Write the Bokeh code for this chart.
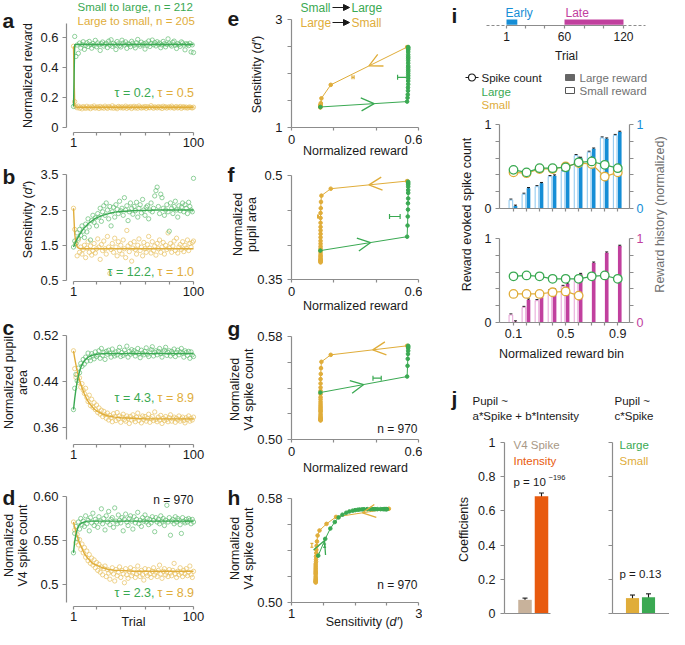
import math
from bokeh.plotting import figure
from bokeh.layouts import row, column
from bokeh.models import (Range1d, FixedTicker, LinearAxis, Label, Arrow, OpenHead,
                          NormalHead, Whisker, TeeHead, ColumnDataSource)
from bokeh.embed import file_html
from bokeh.resources import INLINE

# ======================= DATA =======================
trials = list(range(1, 101))
fit_t = [1, 2, 3, 4, 5, 6, 7, 8, 10, 12, 14, 16, 18, 20, 25, 30, 35, 40, 50, 60, 70, 80, 90, 100]

# a: normalized reward
a_green = [0.140,0.605,0.472,0.548,0.493,0.561,0.528,0.552,0.570,0.519,
           0.546,0.563,0.538,0.572,0.551,0.527,0.558,0.545,0.579,0.536,
           0.562,0.549,0.512,0.557,0.568,0.541,0.553,0.560,0.531,0.574,
           0.547,0.583,0.539,0.559,0.550,0.518,0.571,0.556,0.544,0.535,
           0.580,0.561,0.548,0.569,0.526,0.557,0.552,0.537,0.573,0.560,
           0.546,0.529,0.563,0.585,0.551,0.540,0.567,0.549,0.558,0.521,
           0.562,0.547,0.575,0.538,0.559,0.581,0.550,0.564,0.542,0.570,
           0.553,0.561,0.530,0.548,0.572,0.557,0.536,0.552,0.589,0.560,
           0.549,0.541,0.566,0.574,0.547,0.525,0.558,0.551,0.539,0.569,
           0.562,0.548,0.516,0.557,0.553,0.544,0.560,0.502,0.549,0.498]
a_gold = [0.540,0.172,0.138,0.131,0.142,0.128,0.135,0.124,0.139,0.133,
          0.127,0.141,0.130,0.136,0.125,0.138,0.132,0.143,0.129,0.134,
          0.137,0.126,0.140,0.131,0.135,0.128,0.142,0.133,0.127,0.139,
          0.134,0.130,0.144,0.128,0.136,0.132,0.125,0.140,0.135,0.131,
          0.138,0.129,0.134,0.142,0.127,0.136,0.133,0.139,0.126,0.135,
          0.141,0.130,0.137,0.128,0.143,0.134,0.129,0.136,0.132,0.140,
          0.127,0.138,0.133,0.131,0.145,0.135,0.128,0.137,0.134,0.130,
          0.139,0.132,0.136,0.126,0.141,0.133,0.138,0.129,0.135,0.137,
          0.131,0.142,0.134,0.128,0.136,0.139,0.130,0.133,0.140,0.127,
          0.135,0.138,0.131,0.136,0.129,0.134,0.137,0.132,0.130,0.135]
a_green_fit = [0.14, 0.55, 0.551, 0.551, 0.551, 0.551, 0.551, 0.551, 0.551, 0.551, 0.551, 0.551,
               0.551, 0.551, 0.551, 0.551, 0.551, 0.551, 0.551, 0.551, 0.551, 0.551, 0.551, 0.551]
a_gold_fit = [0.54, 0.145, 0.136, 0.135, 0.135, 0.135, 0.135, 0.135, 0.135, 0.135, 0.135, 0.135,
              0.135, 0.135, 0.135, 0.135, 0.135, 0.135, 0.135, 0.135, 0.135, 0.135, 0.135, 0.135]

# b: sensitivity
b_green = [1.45,1.62,1.55,1.85,1.70,1.95,1.78,2.05,1.90,1.72,
           2.10,1.88,2.25,2.02,1.65,2.20,2.35,2.15,2.28,2.05,
           2.40,2.30,2.55,2.18,2.45,2.62,2.35,2.70,2.50,2.25,
           2.60,2.05,2.45,2.58,2.30,2.65,2.52,2.40,2.75,2.48,
           2.55,2.35,2.85,2.50,2.62,2.20,2.45,2.70,2.55,2.38,
           2.60,2.48,2.72,2.30,2.55,2.65,2.42,2.80,2.50,2.35,
           2.58,2.62,2.25,2.50,2.70,2.45,2.55,2.90,3.05,3.15,
           2.60,2.40,2.95,2.85,2.55,2.35,2.50,2.65,2.45,1.90,
           2.70,2.55,2.40,2.60,2.75,2.50,2.30,2.62,2.48,2.58,
           2.70,2.45,2.65,2.55,2.40,2.72,2.60,2.50,2.45,3.40]
b_gold = [2.55,1.95,1.55,1.20,1.65,1.30,1.45,1.25,1.38,1.50,
          1.15,1.42,1.60,1.30,1.48,1.22,1.35,1.55,1.28,1.40,
          1.68,1.45,1.10,1.52,1.35,1.62,1.40,1.25,1.75,1.45,
          0.70,1.38,1.55,1.30,1.70,1.45,1.20,1.60,1.35,1.50,
          1.25,1.65,1.40,1.15,1.92,1.48,1.32,1.55,1.05,1.42,
          1.60,1.38,1.25,1.50,1.68,1.35,1.45,1.20,1.58,1.40,
          1.30,1.52,1.75,1.42,1.28,1.60,1.35,1.48,1.22,1.55,
          1.40,1.65,1.30,1.45,1.58,1.25,1.50,1.38,1.85,1.42,
          1.55,1.30,1.48,1.62,1.35,1.70,1.28,1.45,1.52,1.38,
          1.60,1.32,1.50,1.42,1.65,1.35,1.55,1.45,1.58,1.62]
b_green_fit = [1.45, 1.53, 1.61, 1.68, 1.74, 1.80, 1.86, 1.91, 2.00, 2.07, 2.14, 2.19,
               2.24, 2.28, 2.35, 2.40, 2.44, 2.46, 2.48, 2.49, 2.50, 2.50, 2.50, 2.50]
b_gold_fit = [2.55, 1.82, 1.56, 1.46, 1.42, 1.41, 1.40, 1.40, 1.40, 1.40, 1.40, 1.40,
              1.40, 1.40, 1.40, 1.40, 1.40, 1.40, 1.40, 1.40, 1.40, 1.40, 1.40, 1.40]

# c: pupil area
c_green = [0.391,0.428,0.452,0.441,0.463,0.455,0.471,0.466,0.478,0.470,
           0.482,0.475,0.489,0.481,0.476,0.488,0.484,0.479,0.491,0.483,
           0.486,0.493,0.480,0.497,0.485,0.490,0.478,0.492,0.487,0.494,
           0.489,0.482,0.496,0.488,0.484,0.491,0.486,0.493,0.499,0.483,
           0.490,0.485,0.494,0.488,0.501,0.482,0.492,0.487,0.495,0.489,
           0.493,0.484,0.490,0.497,0.488,0.481,0.494,0.489,0.486,0.492,
           0.498,0.487,0.483,0.491,0.495,0.500,0.484,0.490,0.493,0.486,
           0.492,0.497,0.488,0.482,0.491,0.494,0.499,0.485,0.490,0.493,
           0.484,0.492,0.488,0.496,0.483,0.490,0.494,0.486,0.491,0.497,
           0.489,0.482,0.493,0.490,0.485,0.492,0.480,0.491,0.486,0.483]
c_gold = [0.493,0.462,0.447,0.451,0.438,0.446,0.430,0.436,0.425,0.419,
          0.428,0.412,0.405,0.416,0.398,0.409,0.395,0.403,0.391,0.399,
          0.386,0.394,0.383,0.390,0.379,0.388,0.382,0.376,0.385,0.373,
          0.381,0.377,0.370,0.384,0.379,0.372,0.386,0.375,0.380,0.369,
          0.378,0.383,0.374,0.371,0.380,0.376,0.367,0.379,0.373,0.382,
          0.375,0.370,0.378,0.385,0.372,0.377,0.368,0.380,0.374,0.379,
          0.371,0.376,0.383,0.369,0.375,0.379,0.372,0.387,0.374,0.370,
          0.378,0.373,0.381,0.367,0.376,0.372,0.379,0.374,0.370,0.377,
          0.382,0.371,0.375,0.378,0.369,0.376,0.373,0.380,0.371,0.375,
          0.378,0.372,0.368,0.377,0.374,0.380,0.371,0.376,0.373,0.378]
c_green_fit = [0.391, 0.410, 0.426, 0.439, 0.449, 0.457, 0.464, 0.469, 0.476, 0.480, 0.483, 0.485,
               0.486, 0.487, 0.488, 0.488, 0.488, 0.488, 0.488, 0.488, 0.488, 0.488, 0.488, 0.488]
c_gold_fit = [0.493, 0.480, 0.469, 0.459, 0.450, 0.442, 0.435, 0.429, 0.418, 0.409, 0.402, 0.397,
              0.392, 0.389, 0.383, 0.380, 0.378, 0.377, 0.376, 0.375, 0.375, 0.375, 0.375, 0.375]

# d: V4 spike count
d_green = [0.536,0.558,0.566,0.552,0.571,0.563,0.575,0.568,0.572,0.566,
           0.578,0.569,0.573,0.561,0.576,0.570,0.581,0.567,0.574,0.571,
           0.565,0.577,0.572,0.586,0.569,0.575,0.562,0.578,0.571,0.583,
           0.568,0.574,0.576,0.565,0.587,0.572,0.569,0.579,0.573,0.570,
           0.576,0.561,0.574,0.580,0.571,0.567,0.575,0.578,0.572,0.563,
           0.577,0.570,0.574,0.582,0.569,0.573,0.566,0.576,0.572,0.579,
           0.571,0.575,0.568,0.574,0.570,0.577,0.573,0.560,0.576,0.571,
           0.574,0.569,0.578,0.572,0.575,0.567,0.573,0.590,0.571,0.576,
           0.556,0.572,0.574,0.569,0.577,0.571,0.575,0.573,0.568,0.558,
           0.576,0.572,0.570,0.574,0.571,0.575,0.573,0.569,0.574,0.571]
d_gold = [0.571,0.562,0.548,0.557,0.545,0.551,0.540,0.546,0.536,0.542,
          0.531,0.538,0.527,0.534,0.524,0.530,0.522,0.528,0.519,0.525,
          0.516,0.523,0.514,0.520,0.511,0.518,0.521,0.509,0.517,0.513,
          0.506,0.515,0.519,0.512,0.504,0.517,0.510,0.514,0.520,0.508,
          0.516,0.512,0.502,0.518,0.511,0.507,0.515,0.519,0.510,0.513,
          0.517,0.508,0.512,0.521,0.514,0.509,0.516,0.511,0.505,0.518,
          0.513,0.510,0.517,0.512,0.508,0.515,0.519,0.511,0.514,0.509,
          0.516,0.522,0.512,0.507,0.515,0.518,0.511,0.514,0.509,0.517,
          0.513,0.510,0.516,0.524,0.512,0.508,0.515,0.511,0.519,0.513,
          0.509,0.516,0.512,0.518,0.510,0.514,0.521,0.511,0.508,0.515]
d_green_fit = [0.536, 0.549, 0.557, 0.562, 0.566, 0.568, 0.569, 0.570, 0.571, 0.572, 0.572, 0.572,
               0.572, 0.572, 0.572, 0.572, 0.572, 0.572, 0.572, 0.572, 0.572, 0.572, 0.572, 0.572]
d_gold_fit = [0.571, 0.565, 0.560, 0.555, 0.551, 0.547, 0.544, 0.541, 0.535, 0.531, 0.528, 0.525,
              0.523, 0.522, 0.519, 0.517, 0.516, 0.516, 0.515, 0.515, 0.515, 0.515, 0.515, 0.515]

# e-h: trajectories (green = small->large, gold = large->small)
e_green_x = [0.136, 0.545, 0.547, 0.548, 0.549, 0.549, 0.55, 0.55, 0.55, 0.55, 0.55, 0.55, 0.55,
             0.55, 0.55, 0.55, 0.55, 0.55, 0.55, 0.55, 0.55, 0.55, 0.55, 0.55, 0.55]
e_green_y = [1.38, 1.48, 1.55, 1.61, 1.68, 1.74, 1.80, 1.86, 1.91, 1.96, 2.00, 2.04, 2.07,
             2.11, 2.14, 2.19, 2.24, 2.28, 2.31, 2.35, 2.40, 2.44, 2.46, 2.48, 2.49]
e_gold_x = [0.545, 0.185, 0.141, 0.138, 0.137, 0.136, 0.136, 0.136, 0.136, 0.136]
e_gold_y = [2.49, 1.79, 1.54, 1.45, 1.42, 1.41, 1.40, 1.39, 1.38, 1.37]

f_green_x = [0.136, 0.545, 0.547, 0.548, 0.549, 0.549, 0.55, 0.55, 0.55, 0.55, 0.55, 0.55, 0.55]
f_green_y = [0.392, 0.412, 0.428, 0.441, 0.451, 0.460, 0.467, 0.475, 0.479, 0.484, 0.487, 0.489, 0.491]
f_gold_x = [0.545, 0.185, 0.141, 0.139, 0.138, 0.137, 0.137, 0.137, 0.137, 0.137, 0.137, 0.137,
            0.137, 0.137, 0.137, 0.137, 0.137, 0.137, 0.137, 0.137, 0.137, 0.137, 0.137, 0.137,
            0.137, 0.137, 0.137]
f_gold_y = [0.492, 0.481, 0.471, 0.462, 0.453, 0.446, 0.439, 0.432, 0.426, 0.421, 0.416, 0.411,
            0.406, 0.402, 0.398, 0.395, 0.392, 0.389, 0.386, 0.384, 0.382, 0.380, 0.379, 0.378,
            0.377, 0.376, 0.375]

g_green_x = [0.136, 0.545, 0.547, 0.548, 0.549, 0.55, 0.55, 0.55, 0.55]
g_green_y = [0.5366, 0.549, 0.5573, 0.5627, 0.5665, 0.569, 0.571, 0.572, 0.5728]
g_gold_x = [0.545, 0.185, 0.141, 0.139, 0.138, 0.137, 0.137, 0.137, 0.137, 0.137, 0.137, 0.137,
            0.137, 0.137, 0.137, 0.137, 0.137, 0.137, 0.137, 0.137, 0.137, 0.137, 0.137, 0.137,
            0.137, 0.137, 0.137, 0.137, 0.137]
g_gold_y = [0.5728, 0.5658, 0.5604, 0.5555, 0.551, 0.547, 0.5436, 0.5405, 0.538, 0.5354, 0.533,
            0.5313, 0.5295, 0.528, 0.5266, 0.5254, 0.5243, 0.5233, 0.5224, 0.5216, 0.5200, 0.5188,
            0.5178, 0.5171, 0.5165, 0.5160, 0.5157, 0.5152, 0.515]

h_green_x = [1.42, 1.53, 1.61, 1.68, 1.74, 1.80, 1.86, 1.91, 1.96, 2.00, 2.04, 2.07, 2.11,
             2.14, 2.19, 2.24, 2.28, 2.31, 2.35, 2.40, 2.44, 2.46, 2.48, 2.49, 2.50]
h_green_y = [0.536, 0.549, 0.557, 0.562, 0.5656, 0.5677, 0.5692, 0.5702, 0.5708, 0.5712, 0.5715,
             0.5717, 0.5718, 0.5719, 0.572, 0.572, 0.572, 0.572, 0.572, 0.572, 0.572, 0.572,
             0.572, 0.572, 0.572]
h_gold_x = [2.53, 1.70, 1.55, 1.44, 1.41, 1.40, 1.395, 1.39, 1.39, 1.385, 1.385, 1.385, 1.38,
            1.38, 1.38, 1.38, 1.38, 1.38, 1.38, 1.38, 1.38, 1.38, 1.38, 1.38, 1.38, 1.38, 1.38,
            1.38]
h_gold_y = [0.5723, 0.566, 0.5606, 0.5555, 0.5516, 0.547, 0.5436, 0.5405, 0.538, 0.5354, 0.533,
            0.5313, 0.5295, 0.528, 0.5266, 0.5254, 0.5243, 0.5233, 0.5224, 0.5216, 0.5200, 0.5188,
            0.5178, 0.5171, 0.5165, 0.5160, 0.5157, 0.5152]

# error bars in e-h (first entry green, second gold)
e_err_green = dict(y=[1.93], lo=[0.50], hi=[0.556])
e_err_gold = dict(y=[1.93], lo=[0.285], hi=[0.295])
f_err_green = dict(y=[0.441], lo=[0.462], hi=[0.512])
f_err_gold = dict(y=[0.441], lo=[0.123], hi=[0.127])
g_err_green = dict(y=[0.5477], lo=[0.384], hi=[0.423])
h_err_gold = dict(x=[1.32], lo=[0.5425], hi=[0.5455])
h_err_green = dict(x=[1.52], lo=[0.5425], hi=[0.5450])

# i: timeline periods
period_start = [1, 60]
period_end = [12, 120]
period_names = ["Early", "Late"]

# i: reward-bin analysis
bins = [0.1, 0.2, 0.3, 0.4, 0.5, 0.6, 0.7, 0.8, 0.9]
early_small_hist = [0.10, 0.17, 0.26, 0.38, 0.44, 0.63, 0.67, 0.84, 0.87]
early_large_hist = [0.03, 0.24, 0.30, 0.39, 0.46, 0.60, 0.71, 0.83, 0.91]
early_spk_large = [0.46, 0.43, 0.48, 0.48, 0.49, 0.55, 0.56, 0.52, 0.48]
early_spk_large_err = [0.03, 0.02, 0.02, 0.02, 0.03, 0.06, 0.06, 0.03, 0.03]
early_spk_small = [0.43, 0.42, 0.47, 0.47, 0.50, 0.54, 0.53, 0.38, 0.43]
early_spk_small_err = [0.02, 0.02, 0.02, 0.02, 0.03, 0.05, 0.05, 0.05, 0.04]
late_small_hist = [0.09, 0.18, 0.26, 0.38, 0.43, 0.52]
late_large_hist = [0.01, 0.27, 0.30, 0.39, 0.46, 0.575, 0.71, 0.83, 0.91]
late_spk_large = [0.55, 0.56, 0.55, 0.52, 0.52, 0.52, 0.55, 0.56, 0.52]
late_spk_large_err = [0.02, 0.02, 0.02, 0.02, 0.02, 0.03, 0.02, 0.02, 0.02]
late_spk_small = [0.34, 0.34, 0.34, 0.36, 0.37, 0.32]
late_spk_small_err = [0.02, 0.02, 0.02, 0.03, 0.04, 0.05]

# j: regression coefficients
j_left_names = ["V4 Spike", "Intensity"]
j_left_vals = [0.08, 0.685]
j_left_err = [0.01, 0.02]
j_right_names = ["Small", "Large"]
j_right_vals = [0.09, 0.095]
j_right_err = [0.018, 0.02]

# ======================= STYLE =======================
FONT = "Liberation Sans"
AX = "#8c8c8c"
INK = "#1a1a1a"
GREEN = "#3aa952"
GREEN_P = "#5dbb6e"
GOLD = "#e0ad3a"
GOLD_P = "#e8bf5c"
BLUE = "#168ed6"
BLUE_L = "#8ac6ee"
MAG = "#c1409e"
MAG_L = "#e6a2d6"
TAN = "#c8b29b"
ORANGE = "#e85a0e"
GRAYTXT = "#707070"
VERT = math.pi / 2


class Map:
    """linear value <-> layout pixel mapping (value v0 at pixel p0, v1 at p1)"""
    def __init__(self, v0, p0, v1, p1):
        self.v0, self.p0 = v0, p0
        self.s = (p1 - p0) / (v1 - v0)

    def val(self, px):
        return self.v0 + (px - self.p0) / self.s


def page_x():
    return Map(0, 0, 1, 1)


def page_y(Y1):
    return Map(0, Y1, 1, Y1 - 1)


FR = {}


def cfig(X0, X1, Y0, Y1, xm, ym):
    p = figure(width=X1 - X0, height=Y1 - Y0, title=None,
               x_range=Range1d(xm.val(X0), xm.val(X1)),
               y_range=Range1d(ym.val(Y1), ym.val(Y0)),
               x_axis_location=None, y_axis_location=None, tools="",
               toolbar_location=None, output_backend="svg",
               min_border_left=0, min_border_right=0, min_border_top=0, min_border_bottom=0)
    p.outline_line_color = None
    p.grid.grid_line_color = None
    p.background_fill_color = "white"
    p.border_fill_color = "white"
    FR[id(p)] = (X0, Y1)
    return p


def lab(p, x, y, text, size="12.5px", color=INK, align="left", base="middle",
        angle=0.0, style="normal"):
    X0, Y1 = FR[id(p)]
    p.add_layout(Label(x=x - X0, y=Y1 - y, x_units="screen", y_units="screen", text=text,
                       text_font=FONT, text_font_size=size, text_color=color,
                       text_align=align, text_baseline=base, angle=angle,
                       text_font_style=style))


def sens_label(p, cx, cy, vertical=False, size=12.5):
    # "Sensitivity (" + italic "d′" + ")", centred on (cx, cy)
    parts = [("Sensitivity (", 5.112, "normal"), ("d′", 0.76, "italic"), (")", 0.333, "normal")]
    total = sum(w for _, w, _ in parts) * size
    off = -total / 2
    for text, w, st in parts:
        if vertical:
            lab(p, cx, cy - off, text, size=f"{size}px", angle=VERT, style=st)
        else:
            lab(p, cx + off, cy, text, size=f"{size}px", style=st)
        off += w * size


def axis(p, side, ticks, labels, loc, bounds, size="13px", color=INK, tick_out=4,
         standoff=4, line=True, tick_in=0, xname=None, yname=None):
    ov = {}
    for t, l in zip(ticks, labels):
        ov[t] = l
        ov[str(t)] = l
    ax = LinearAxis(ticker=FixedTicker(ticks=list(ticks)), major_label_overrides=ov,
                    fixed_location=loc, bounds=bounds)
    if xname:
        ax.x_range_name = xname
    if yname:
        ax.y_range_name = yname
    ax.axis_line_color = AX if line else None
    ax.axis_line_width = 1.2
    ax.major_tick_line_color = AX
    ax.major_tick_line_width = 1.2
    ax.minor_tick_line_color = None
    ax.major_tick_in = tick_in
    ax.major_tick_out = tick_out
    ax.major_label_standoff = standoff
    ax.major_label_text_font = FONT
    ax.major_label_text_font_size = size
    ax.major_label_text_color = color
    p.add_layout(ax, side)
    return ax


def trial_panel(p, g, y, gfit, yfit):
    p.scatter(trials[:len(y)], y, marker="circle", size=4.3, fill_color=None,
              line_color=GOLD_P, line_width=0.8, line_alpha=0.85)
    p.scatter(trials[:len(g)], g, marker="circle", size=4.3, fill_color=None,
              line_color=GREEN_P, line_width=0.8, line_alpha=0.85)
    p.line(fit_t[:len(yfit)], yfit, line_color=GOLD, line_width=1.4)
    p.line(fit_t[:len(gfit)], gfit, line_color=GREEN, line_width=1.4)


def path(p, xs, ys, color):
    n = min(len(xs), len(ys))
    p.line(xs[:n], ys[:n], line_color=color, line_width=1.0)
    p.scatter(xs[:n], ys[:n], marker="circle", size=3.6, fill_color=color, line_color=color)


def chevron(p, xs, ys, color, i=0, frac=0.55, size=13):
    x0, y0, x1, y1 = xs[i], ys[i], xs[i + 1], ys[i + 1]
    xa = x0 + (frac - 0.03) * (x1 - x0)
    ya = y0 + (frac - 0.03) * (y1 - y0)
    xb = x0 + frac * (x1 - x0)
    yb = y0 + frac * (y1 - y0)
    p.add_layout(Arrow(x_start=xa, y_start=ya, x_end=xb, y_end=yb, line_alpha=0,
                       end=OpenHead(size=size, line_color=color, line_width=1.3)))


def whisk(p, base, lo, hi, dim, color, head=5, width=1.2, yname=None, xname=None):
    src = ColumnDataSource(dict(base=base, lower=lo, upper=hi))
    w = Whisker(source=src, base="base", lower="lower", upper="upper",
                dimension=dim, line_color=color, line_width=width,
                upper_head=TeeHead(size=head, line_color=color, line_width=width),
                lower_head=TeeHead(size=head, line_color=color, line_width=width))
    if yname:
        w.y_range_name = yname
    if xname:
        w.x_range_name = xname
    p.add_layout(w)


def hwhisk(p, err, color, head=5):
    whisk(p, err["y"], err["lo"], err["hi"], "width", color, head=head)


# ======================= COLUMN 1 (a-d) =======================
xm1 = Map(1, 73, 100, 193)
YAX1 = xm1.val(66)
x1_ticks = [1, 20, 40, 60, 80, 100]
x1_labels = ["1", "", "", "", "", "100"]
TS = 155  # split point of the two tau texts


def col1_panel(Y0, Y1, ym, yticks, ylabels, ybounds, xaxis_px, g, y, gfit, yfit):
    p = cfig(0, 224, Y0, Y1, xm1, ym)
    axis(p, "left", yticks, ylabels, YAX1, ybounds, standoff=4)
    axis(p, "below", x1_ticks, x1_labels, ym.val(xaxis_px), (1, 100), tick_out=3, standoff=2)
    trial_panel(p, g, y, gfit, yfit)
    return p


ym_a = Map(0, 127, 0.6, 36.7)
pa = col1_panel(0, 155, ym_a, [0, 0.2, 0.4, 0.6], ["0", "0.2", "0.4", "0.6"],
                (0, ym_a.val(23)), 132, a_green, a_gold, a_green_fit, a_gold_fit)
lab(pa, 2, 20, "a", size="21px", base="alphabetic", style="bold")
lab(pa, 27, 75, "Normalized reward", align="center", angle=VERT)
lab(pa, 77, 6.5, "Small to large, n = 212", size="11.5px", color=GREEN)
lab(pa, 77, 20, "Large to small, n = 205", size="11.5px", color=GOLD)
lab(pa, TS - 1, 92, "τ = 0.2,", color=GREEN, align="right")
lab(pa, TS + 2, 92, "τ = 0.5", color=GOLD)

ym_b = Map(0.5, 280, 3.5, 174.3)
pb = col1_panel(155, 310, ym_b, [0.5, 1.5, 2.5, 3.5], ["0.5", "1.5", "2.5", "3.5"],
                (0.5, 3.5), 281, b_green, b_gold, b_green_fit, b_gold_fit)
lab(pb, 2, 176, "b", size="21px", base="alphabetic", style="bold")
sens_label(pb, 27, 219, vertical=True)
lab(pb, TS - 1, 271, "τ = 12.2,", color=GREEN, align="right")
lab(pb, TS + 2, 271, "τ = 1.0", color=GOLD)

ym_c = Map(0.36, 427, 0.52, 334.7)
pc = col1_panel(310, 472, ym_c, [0.36, 0.44, 0.52], ["0.36", "0.44", "0.52"],
                (0.34, 0.52), 444, c_green, c_gold, c_green_fit, c_gold_fit)
lab(pc, 2, 327, "c", size="21px", base="alphabetic", style="bold")
lab(pc, 8, 382, "Normalized pupil", align="center", angle=VERT)
lab(pc, 22, 382, "area", align="center", angle=VERT)
lab(pc, TS - 1, 397, "τ = 4.3,", color=GREEN, align="right")
lab(pc, TS + 2, 397, "τ = 8.9", color=GOLD)

ym_d = Map(0.5, 584, 0.6, 496)
pd = col1_panel(472, 629, ym_d, [0.5, 0.55, 0.6], ["0.5", "0.55", "0.60"],
                (0.48, 0.6), 606, d_green, d_gold, d_green_fit, d_gold_fit)
lab(pd, 2, 497, "d", size="21px", base="alphabetic", style="bold")
lab(pd, 8, 545, "Normalized", align="center", angle=VERT)
lab(pd, 22, 545, "V4 spike count", align="center", angle=VERT)
lab(pd, 193, 499, "n = 970", size="12px", align="right")
lab(pd, TS - 1, 592, "τ = 2.3,", color=GREEN, align="right")
lab(pd, TS + 2, 592, "τ = 8.9", color=GOLD)
lab(pd, 133, 621, "Trial", align="center")

# ======================= COLUMN 2 (e-h) =======================
X2A, X2B = 224, 422
xm2 = Map(0, 291, 0.6, 418.3)
x2_ticks = [0, 0.2, 0.4, 0.6]
x2_labels = ["0", "", "", "0.6"]

# e
ym_e = Map(1, 127, 3, 19)
pe = cfig(X2A, X2B, 0, 159, xm2, ym_e)
axis(pe, "left", [1, 1.5, 2, 2.5, 3], ["1", "", "", "", "3"], 0, (1, 3), standoff=5)
axis(pe, "below", x2_ticks, x2_labels, 1, (0, 0.6), tick_out=3, standoff=4)
path(pe, e_gold_x, e_gold_y, GOLD)
path(pe, e_green_x, e_green_y, GREEN)
chevron(pe, e_gold_x, e_gold_y, GOLD, frac=0.5)
chevron(pe, e_green_x, e_green_y, GREEN, frac=0.62)
hwhisk(pe, e_err_green, GREEN)
hwhisk(pe, e_err_gold, GOLD, head=4)
lab(pe, 227, 18, "e", size="21px", base="alphabetic", style="bold")
sens_label(pe, 256, 74, vertical=True)
lab(pe, 355, 150, "Normalized reward", align="center")
lab(pe, 300, 7, "Small", size="12px", color=GREEN)
lab(pe, 351, 7, "Large", size="12px", color=GREEN)
lab(pe, 300, 22, "Large", size="12px", color=GOLD)
lab(pe, 351, 22, "Small", size="12px", color=GOLD)
for yy in (7, 22):
    pe.add_layout(Arrow(x_start=332 - X2A, y_start=159 - yy, x_end=349 - X2A, y_end=159 - yy,
                        start_units="screen", end_units="screen", line_color=INK, line_width=1.2,
                        end=NormalHead(size=6, fill_color=INK, line_color=INK)))

# f
ym_f = Map(0.35, 279.3, 0.5, 175)
pf = cfig(X2A, X2B, 159, 315, xm2, ym_f)
axis(pf, "left", [0.35, 0.4, 0.45, 0.5], ["0.35", "", "", "0.5"], 0, (0.35, 0.5), standoff=5)
axis(pf, "below", x2_ticks, x2_labels, 0.35, (0, 0.6), tick_out=3, standoff=4)
path(pf, f_gold_x, f_gold_y, GOLD)
path(pf, f_green_x, f_green_y, GREEN)
chevron(pf, f_gold_x, f_gold_y, GOLD, frac=0.5)
chevron(pf, f_green_x, f_green_y, GREEN, frac=0.58)
hwhisk(pf, f_err_green, GREEN)
hwhisk(pf, f_err_gold, GOLD, head=4)
lab(pf, 227, 174, "f", size="21px", base="alphabetic", style="bold")
lab(pf, 237, 224, "Normalized", align="center", angle=VERT)
lab(pf, 251, 224, "pupil area", align="center", angle=VERT)
lab(pf, 355, 305, "Normalized reward", align="center")

# g
ym_g = Map(0.5, 439.3, 0.58, 336)
pg = cfig(X2A, X2B, 315, 478, xm2, ym_g)
axis(pg, "left", [0.5, 0.52, 0.54, 0.56, 0.58], ["0.50", "", "", "", "0.58"], 0, (0.5, 0.58), standoff=5)
axis(pg, "below", x2_ticks, x2_labels, 0.5, (0, 0.6), tick_out=3, standoff=4)
path(pg, g_gold_x, g_gold_y, GOLD)
path(pg, g_green_x, g_green_y, GREEN)
chevron(pg, g_gold_x, g_gold_y, GOLD, frac=0.45)
chevron(pg, g_green_x, g_green_y, GREEN, frac=0.5)
hwhisk(pg, g_err_green, GREEN)
lab(pg, 227, 328, "g", size="21px", base="alphabetic", style="bold")
lab(pg, 234, 389, "Normalized", align="center", angle=VERT)
lab(pg, 248, 389, "V4 spike count", align="center", angle=VERT)
lab(pg, 355, 467, "Normalized reward", align="center")
lab(pg, 417, 428, "n = 970", size="12px", align="right")

# h
xm_h = Map(1, 291, 3, 418.3)
ym_h = Map(0.5, 601.7, 0.58, 498.3)
ph = cfig(X2A, X2B, 478, 629, xm_h, ym_h)
axis(ph, "left", [0.5, 0.52, 0.54, 0.56, 0.58], ["0.50", "", "", "", "0.58"], 1, (0.5, 0.58), standoff=5)
axis(ph, "below", [1, 1.5, 2, 2.5, 3], ["1", "", "", "", "3"], 0.5, (1, 3), tick_out=3, standoff=4)
path(ph, h_gold_x, h_gold_y, GOLD)
path(ph, h_green_x, h_green_y, GREEN)
chevron(ph, h_gold_x, h_gold_y, GOLD, frac=0.5)
chevron(ph, h_green_x, h_green_y, GREEN, frac=0.9)
whisk(ph, h_err_gold["x"], h_err_gold["lo"], h_err_gold["hi"], "height", GOLD, head=3)
whisk(ph, h_err_green["x"], h_err_green["lo"], h_err_green["hi"], "height", GREEN, head=3)
lab(ph, 227, 497, "h", size="21px", base="alphabetic", style="bold")
lab(ph, 234, 548, "Normalized", align="center", angle=VERT)
lab(ph, 248, 548, "V4 spike count", align="center", angle=VERT)
sens_label(ph, 364, 621)
lab(ph, 417, 584, "n = 970", size="12px", align="right")

# ======================= COLUMN 3 (i, j) =======================
X3A, X3B = 422, 669

# --- timeline + legend ---
ym_t = page_y(110)
pit = cfig(X3A, X3B, 0, 110, page_x(), ym_t)
tm = Map(1, 506, 120, 623)
pit.extra_x_ranges = {"trial": Range1d(tm.val(X3A), tm.val(X3B))}
axis(pit, "below", [1, 20, 40, 60, 80, 100, 120], ["1", "", "", "60", "", "", "120"],
     ym_t.val(25), (1, 120), size="12px", tick_out=3, standoff=3, xname="trial")
pit.line([tm.val(486), period_start[0]], [ym_t.val(25)] * 2, x_range_name="trial",
         line_color=AX, line_width=1.2, line_dash="3 2")
pit.line([period_end[1], tm.val(645)], [ym_t.val(25)] * 2, x_range_name="trial",
         line_color=AX, line_width=1.2, line_dash="3 2")
pit.quad(left=period_start, right=period_end, bottom=[ym_t.val(24.3)] * 2,
         top=[ym_t.val(19)] * 2, x_range_name="trial",
         fill_color=[BLUE, MAG], line_color=None)
lab(pit, 451, 15, "i", size="21px", base="alphabetic", style="bold")
lab(pit, 505, 12, period_names[0], size="12px", color=BLUE)
lab(pit, 565, 12, period_names[1], size="12px", color=MAG)
lab(pit, 566, 55, "Trial", size="12px", align="center")
# legend
pit.line([465, 478], [ym_t.val(77)] * 2, line_color=INK, line_width=1.1)
pit.scatter([471.5], [ym_t.val(77)], marker="circle", size=7, fill_color="white",
            line_color=INK, line_width=1.1)
lab(pit, 481, 77, "Spike count", size="11.5px")
lab(pit, 481, 91, "Large", size="11.5px", color=GREEN)
lab(pit, 481, 104, "Small", size="11.5px", color=GOLD)
pit.rect([569.5], [ym_t.val(77)], width=9, height=6, fill_color="#666666", line_color="#666666")
pit.rect([569.5], [ym_t.val(90)], width=9, height=6, fill_color="white", line_color="#555555",
         line_width=1)
lab(pit, 579, 77, "Large reward", size="11.5px", color=GRAYTXT)
lab(pit, 579, 90, "Small reward", size="11.5px", color=GRAYTXT)

# --- reward-bin charts ---
cm = Map(0.1, 513, 0.9, 617.3)
yb = Map(0, 322, 1, 238)
yt = Map(0, 208, 1, 124)
pi = cfig(X3A, X3B, 110, 368, cm, yb)
pi.extra_y_ranges = {"top": Range1d(yt.val(368), yt.val(110))}
y01 = [0, 0.2, 0.4, 0.6, 0.8, 1]
y01_lab = ["0", "", "", "", "", "1"]
IL, IR = cm.val(499), cm.val(629)


def ichart(p, yname, small, large, sl, sl_err, ss, ss_err, dark, light, xlabels):
    kw = {"yname": yname} if yname else {}
    gk = {"y_range_name": yname} if yname else {}
    axis(p, "left", y01, y01_lab, IL, (0, 1), size="12.5px", standoff=4, **kw)
    axis(p, "right", y01, y01_lab, IR, (0, 1), size="12.5px", color=dark, standoff=3, **kw)
    axis(p, "below", bins, xlabels, 0, (IL, IR), size="12.5px", tick_out=3, standoff=3, **kw)
    xs_small = [b - 0.02 for b in bins[:len(small)]]
    xs_large = [b + 0.015 for b in bins[:len(large)]]
    p.vbar(x=xs_small, top=small, width=0.028, fill_color="white", line_color=light,
           line_width=1, **gk)
    p.vbar(x=xs_large, top=large, width=0.028, fill_color=dark, line_color=None, **gk)
    whisk(p, xs_small, [v - 0.012 for v in small], [v + 0.012 for v in small], "height",
          INK, head=3, width=1, yname=yname)
    whisk(p, xs_large, [v - 0.01 for v in large], [v + 0.01 for v in large], "height",
          INK, head=3, width=1, yname=yname)
    for vals, errs, col in ((ss, ss_err, GOLD), (sl, sl_err, GREEN)):
        xx = bins[:len(vals)]
        p.line(xx, vals, line_color=col, line_width=1.2, **gk)
        p.scatter(xx, vals, marker="circle", size=8.5, fill_color="white", line_color=col,
                  line_width=1.3, **gk)
        whisk(p, xx, [v - e for v, e in zip(vals, errs)], [v + e for v, e in zip(vals, errs)],
              "height", INK, head=3, width=1, yname=yname)


ichart(pi, "top", early_small_hist, early_large_hist, early_spk_large, early_spk_large_err,
       early_spk_small, early_spk_small_err, BLUE, BLUE_L, [""] * 9)
ichart(pi, None, late_small_hist, late_large_hist, late_spk_large, late_spk_large_err,
       late_spk_small, late_spk_small_err, MAG, MAG_L,
       ["0.1", "", "", "", "0.5", "", "", "", "0.9"])
lab(pi, 466, 214, "Reward evoked spike count", size="12.5px", align="center", angle=VERT)
lab(pi, 659, 214, "Reward history (normalized)", size="12.5px", color=GRAYTXT,
    align="center", angle=VERT)
lab(pi, 561, 353, "Normalized reward bin", size="12.5px", align="center")

# --- j ---
jm = Map(1, 524.5, 2, 541)
rm = Map(1, 632, 2, 648)
jy = Map(0, 613, 1, 442)
pj = cfig(X3A, X3B, 368, 629, jm, jy)
pj.extra_x_ranges = {"jr": Range1d(rm.val(X3A), rm.val(X3B))}
axis(pj, "left", y01, ["0", "0.2", "0.4", "0.6", "0.8", "1"], jm.val(504), (0, 1),
     size="12.5px", standoff=5)
axis(pj, "below", [], [], 0, (jm.val(504), jm.val(550)), tick_out=0)
axis(pj, "left", y01, [""] * 6, rm.val(612), (0, 1), size="12.5px", xname="jr")
axis(pj, "below", [], [], 0, (rm.val(612), rm.val(X3B)), tick_out=0, xname="jr")
jx = [1, 2]
pj.vbar(x=jx, top=j_left_vals, width=0.82, fill_color=[TAN, ORANGE], line_color=None)
whisk(pj, jx, [v - e for v, e in zip(j_left_vals, j_left_err)],
      [v + e for v, e in zip(j_left_vals, j_left_err)], "height", INK, head=5, width=1.1)
pj.vbar(x=jx, top=j_right_vals, width=0.82, fill_color=[GOLD, GREEN], line_color=None,
        x_range_name="jr")
whisk(pj, jx, [v - e for v, e in zip(j_right_vals, j_right_err)],
      [v + e for v, e in zip(j_right_vals, j_right_err)], "height", INK, head=5, width=1.1,
      xname="jr")
lab(pj, 451, 398, "j", size="21px", base="alphabetic", style="bold")
lab(pj, 472, 400, "Pupil ~", size="11.5px")
lab(pj, 472, 415, "a*Spike + b*Intensity", size="11.5px")
lab(pj, 614, 400, "Pupil ~", size="11.5px")
lab(pj, 614, 415, "c*Spike", size="11.5px")
lab(pj, 463, 529, "Coefficients", size="12.5px", align="center", angle=VERT)
lab(pj, 513, 444, j_left_names[0], size="11.5px", color="#a89886")
lab(pj, 513, 460, j_left_names[1], size="11.5px", color=ORANGE)
lab(pj, 513, 481, "p = 10", size="11.5px")
lab(pj, 548, 477, "−196", size="7.5px")
lab(pj, 619, 444, "Large", size="11.5px", color=GREEN)
lab(pj, 619, 460, "Small", size="11.5px", color=GOLD)
lab(pj, 619, 573, "p = 0.13", size="11.5px")

# ======================= LAYOUT =======================
col1 = column(pa, pb, pc, pd, spacing=0)
col2 = column(pe, pf, pg, ph, spacing=0)
col3 = column(pit, pi, pj, spacing=0)
root = row(col1, col2, col3, spacing=0)

open("out.html", "w").write(file_html(root, INLINE))
